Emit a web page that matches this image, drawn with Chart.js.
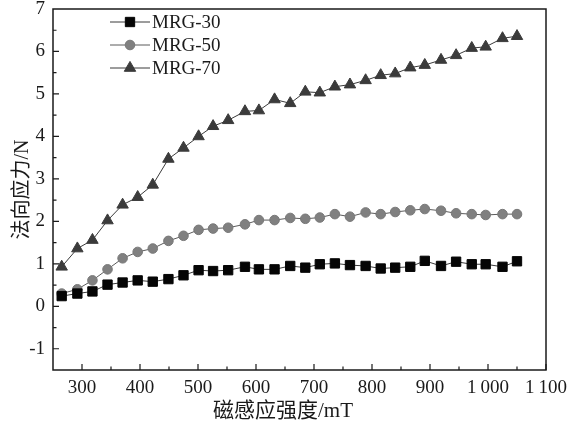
<!DOCTYPE html>
<html>
<head>
<meta charset="utf-8">
<script src="https://cdn.jsdelivr.net/npm/chart.js@4/dist/chart.umd.min.js"></script>
<style>
  html, body { margin: 0; padding: 0; background: #fff; }
  #wrap { width: 569px; height: 423px; }
</style>
</head>
<body>
<div id="wrap"><canvas id="stress-chart"></canvas></div>
<script>
// magnetic flux density (mT) and normal stress (N) per sample
var fieldMT = [265, 292, 318, 344, 370, 396, 422, 449, 475, 501, 526, 552, 581, 605, 632, 659,
               685, 710, 736, 762, 789, 815, 840, 866, 891, 919, 945, 972, 996, 1025, 1050];
var mrg30 = [0.24, 0.30, 0.35, 0.51, 0.56, 0.61, 0.58, 0.64, 0.73, 0.85, 0.83, 0.85, 0.93, 0.87, 0.87, 0.95,
             0.91, 0.99, 1.01, 0.97, 0.95, 0.89, 0.91, 0.93, 1.07, 0.95, 1.05, 0.99, 0.99, 0.93, 1.06];
var mrg50 = [0.30, 0.40, 0.61, 0.87, 1.13, 1.28, 1.36, 1.54, 1.66, 1.80, 1.83, 1.85, 1.93, 2.03, 2.03, 2.08,
             2.06, 2.09, 2.17, 2.11, 2.21, 2.17, 2.22, 2.26, 2.29, 2.25, 2.19, 2.17, 2.15, 2.17, 2.17];
var mrg70 = [0.93, 1.36, 1.56, 2.02, 2.39, 2.57, 2.86, 3.47, 3.73, 4.00, 4.24, 4.38, 4.59, 4.61, 4.87, 4.78,
             5.05, 5.03, 5.17, 5.22, 5.32, 5.44, 5.48, 5.62, 5.68, 5.80, 5.91, 6.08, 6.11, 6.31, 6.36];

var seriesNames = ['MRG-30', 'MRG-50', 'MRG-70'];
var xTicks = [300, 400, 500, 600, 700, 800, 900, 1000, 1100];
var xTickLabels = ['300', '400', '500', '600', '700', '800', '900', '1\u2009000', '1\u2009100'];
var yTicks = [-1, 0, 1, 2, 3, 4, 5, 6, 7];
var xTitle = '磁感应强度/mT';
var yTitle = '法向应力/N';

var serif = "'Liberation Serif', 'Times New Roman', serif";
var cjk = "'Liberation Serif', 'Noto Sans CJK SC', serif";
var ink = '#1a1a1a';

function points(ys) {
    return ys.map(function (v, i) { return { x: fieldMT[i], y: v }; });
}

// frame, inward ticks (major + half-step minor), x title and the boxed-in legend
var axesDecor = {
    id: 'axesDecor',
    afterDraw: function (chart) {
        var ctx = chart.ctx, a = chart.chartArea;
        var xs = chart.scales.x, ys = chart.scales.y;
        ctx.save();
        ctx.strokeStyle = ink;
        ctx.lineWidth = 1.5;
        ctx.strokeRect(a.left, a.top, a.right - a.left, a.bottom - a.top);

        ctx.lineWidth = 1.2;
        ctx.beginPath();
        xs.ticks.forEach(function (t, i) {
            var px = xs.getPixelForValue(t.value);
            ctx.moveTo(px, a.bottom); ctx.lineTo(px, a.bottom - 6);
            var half = i > 0 ? (t.value + xs.ticks[i - 1].value) / 2 : t.value - 50;
            if (half > xs.min) {
                var hx = xs.getPixelForValue(half);
                ctx.moveTo(hx, a.bottom); ctx.lineTo(hx, a.bottom - 3.5);
            }
        });
        ys.ticks.forEach(function (t, i) {
            var py = ys.getPixelForValue(t.value);
            if (t.value < ys.max) { ctx.moveTo(a.left, py); ctx.lineTo(a.left + 6, py); }
            var half = t.value + 0.5;
            if (half < ys.max) {
                var hy = ys.getPixelForValue(half);
                ctx.moveTo(a.left, hy); ctx.lineTo(a.left + 3.5, hy);
            }
            if (i === 0 && t.value - 0.5 > ys.min) {
                var ly = ys.getPixelForValue(t.value - 0.5);
                ctx.moveTo(a.left, ly); ctx.lineTo(a.left + 3.5, ly);
            }
        });
        ctx.stroke();

        // x axis title sits a little left of the plot centre
        ctx.fillStyle = ink;
        ctx.font = '21px ' + cjk;
        ctx.textAlign = 'center';
        ctx.textBaseline = 'middle';
        ctx.fillText(xTitle, a.left + 230, a.bottom + 41);

        // legend rows
        chart.data.datasets.forEach(function (ds, i) {
            var y = a.top + 13 + i * 23;
            var x0 = a.left + 57, x1 = a.left + 97;
            ctx.strokeStyle = ds.borderColor;
            ctx.lineWidth = 1;
            ctx.beginPath();
            ctx.moveTo(x0, y); ctx.lineTo(x1, y);
            ctx.stroke();
            ctx.fillStyle = ds.pointBackgroundColor;
            ctx.strokeStyle = ds.pointBorderColor;
            Chart.helpers.drawPoint(ctx, {
                pointStyle: ds.pointStyle, radius: ds.pointRadius,
                rotation: 0, borderWidth: 1
            }, (x0 + x1) / 2, y);
            ctx.fillStyle = ink;
            ctx.font = '19px ' + serif;
            ctx.textAlign = 'left';
            ctx.textBaseline = 'middle';
            ctx.fillText(ds.label, x1 + 2, y + 1);
        });
        ctx.restore();
    }
};

new Chart(document.getElementById('stress-chart'), {
    type: 'scatter',
    data: {
        datasets: [{
            label: seriesNames[0],
            data: points(mrg30),
            showLine: true,
            borderColor: '#3a3a3a',
            borderWidth: 1,
            pointStyle: 'rect',
            pointRadius: 6.6,
            pointBackgroundColor: '#050505',
            pointBorderColor: '#050505',
            pointBorderWidth: 1
        }, {
            label: seriesNames[1],
            data: points(mrg50),
            showLine: true,
            borderColor: '#5a5a5a',
            borderWidth: 1,
            pointStyle: 'circle',
            pointRadius: 4.8,
            pointBackgroundColor: '#808080',
            pointBorderColor: '#787878',
            pointBorderWidth: 1
        }, {
            label: seriesNames[2],
            data: points(mrg70),
            showLine: true,
            borderColor: '#3a3a3a',
            borderWidth: 1,
            pointStyle: 'triangle',
            pointRadius: 6.6,
            pointBackgroundColor: '#3b3b3b',
            pointBorderColor: '#3b3b3b',
            pointBorderWidth: 1
        }]
    },
    options: {
        responsive: true,
        maintainAspectRatio: false,
        animation: false,
        layout: { padding: { left: 3, top: 9, right: 23, bottom: 0 } },
        plugins: {
            legend: { display: false },
            tooltip: { enabled: false }
        },
        scales: {
            x: {
                type: 'linear',
                min: 250,
                max: 1100,
                grid: { display: false, drawTicks: false },
                border: { display: false },
                afterBuildTicks: function (scale) {
                    scale.ticks = xTicks.map(function (v) { return { value: v }; });
                },
                afterFit: function (scale) {
                    scale.height = 53;
                    scale.paddingLeft = 0;
                    scale.paddingRight = 0;
                },
                ticks: {
                    padding: 7,
                    maxRotation: 0,
                    autoSkip: false,
                    color: ink,
                    font: { family: serif, size: 19 },
                    callback: function (v) {
                        var i = xTicks.indexOf(v);
                        return i >= 0 ? xTickLabels[i] : '';
                    }
                },
                title: { display: false }
            },
            y: {
                min: -1.5,
                max: 7,
                grid: { display: false, drawTicks: false },
                border: { display: false },
                afterBuildTicks: function (scale) {
                    scale.ticks = yTicks.map(function (v) { return { value: v }; });
                },
                afterFit: function (scale) {
                    scale.width = 50;
                    scale.paddingTop = 0;
                    scale.paddingBottom = 0;
                },
                ticks: {
                    padding: 8,
                    color: ink,
                    font: { family: serif, size: 19 }
                },
                title: {
                    display: true,
                    text: yTitle,
                    color: ink,
                    font: { family: cjk, size: 20 },
                    padding: { top: 8, bottom: 0 }
                }
            }
        }
    },
    plugins: [axesDecor]
});
</script>
</body>
</html>
